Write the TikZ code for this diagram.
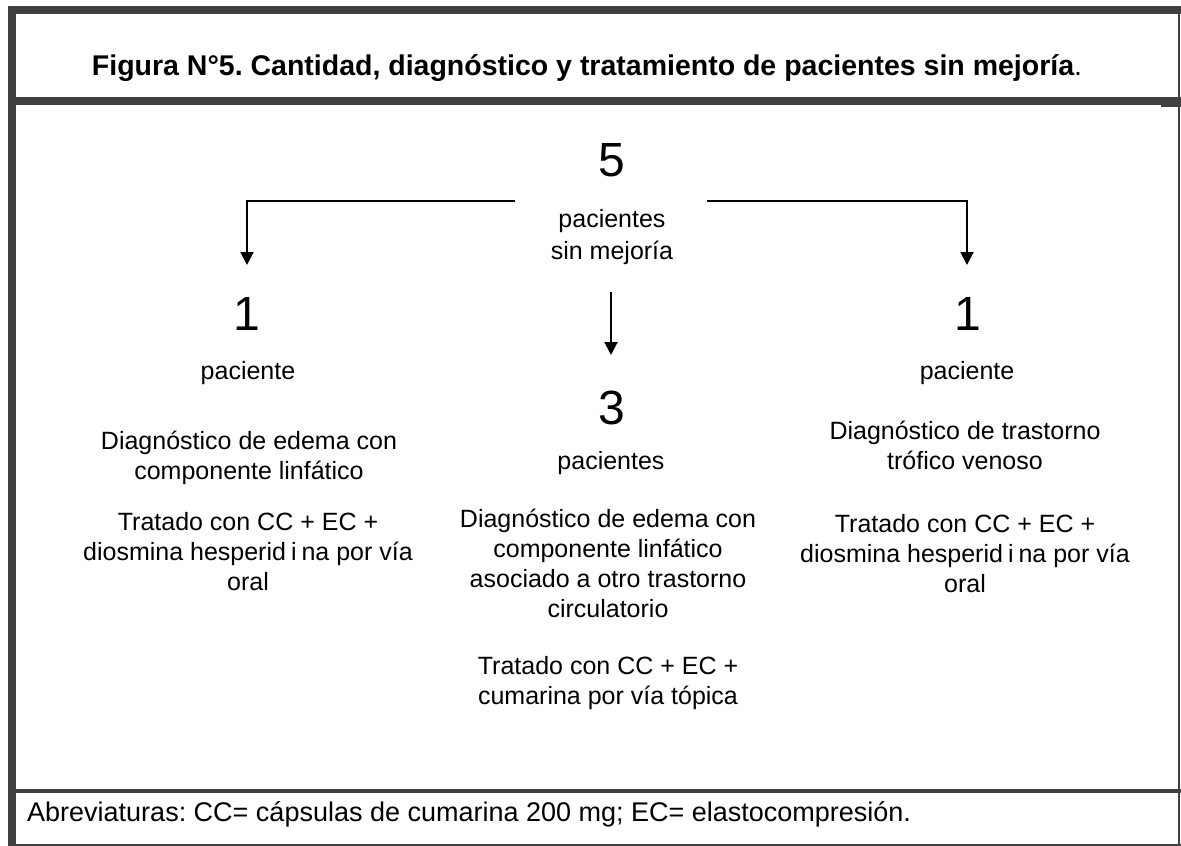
\documentclass[tikz,border=0pt]{standalone}
\usepackage{fontspec}
\setmainfont{Liberation Sans}
\usetikzlibrary{arrows.meta}
\definecolor{framegray}{HTML}{404040}
\frenchspacing
\begin{document}
\begin{tikzpicture}[x=1pt,y=-1pt,
  bar/.style={fill=framegray,draw=none},
  num/.style={inner sep=0pt,font=\fontsize{48}{48}\selectfont},
  lbl/.style={inner sep=0pt,font=\fontsize{25}{30}\selectfont,align=center},
  toplbl/.style={inner sep=0pt,font=\fontsize{25}{32}\selectfont,align=center},
  arr/.style={line width=2pt,-{Triangle[width=13pt,length=13pt]}}]
\useasboundingbox[fill=white] (0,0) rectangle (1181,846);
% frame
\fill[bar] (8,6) rectangle (16,846);
\fill[bar] (8,6) rectangle (1181,14);
\fill[bar] (1178,6) rectangle (1180,846);
\fill[bar] (16,97) rectangle (1181,105);
\fill[bar] (1161,105) rectangle (1181,107);
\fill[bar] (16,789) rectangle (1181,793);
\fill[bar] (8,844) rectangle (1181,846);
% title and footer
\node[inner sep=0pt,anchor=base,font=\fontsize{28.5}{34}\selectfont] (title) at (587,75)
  {\textbf{Figura N°5. Cantidad, diagnóstico y tratamiento de pacientes sin mejoría}.};
\node[inner sep=0pt,anchor=base west,font=\fontsize{27}{32}\selectfont] (abbr) at (27,821)
  {Abreviaturas: CC= cápsulas de cumarina 200 mg; EC= elastocompresión.};
% top
\node[num] (n5) at (612,160) {5};
\node[toplbl] (p5) at (612,236.6) {\strut pacientes\\\strut sin mejoría};
% left column
\node[num] (nL) at (247,314) {1};
\node[lbl,anchor=base] (pL) at (248,379) {paciente};
\node[lbl] (dL) at (249,458) {\strut Diagnóstico de edema con\\\strut componente linfático};
\node[lbl] (tL) at (248,554) {\strut Tratado con CC + EC +\\\strut diosmina hesperid\hspace{0.2em}i\hspace{0.2em}na por vía\\\strut oral};
% middle column
\node[num] (nM) at (612,408) {3};
\node[lbl,anchor=base] (pM) at (611,469) {pacientes};
\node[lbl] (dM) at (608,566) {\strut Diagnóstico de edema con\\\strut componente linfático\\\strut asociado a otro trastorno\\\strut circulatorio};
\node[lbl] (tM) at (608,683) {\strut Tratado con CC + EC +\\\strut cumarina por vía tópica};
% right column
\node[num] (nR) at (968,314) {1};
\node[lbl,anchor=base] (pR) at (967,379) {paciente};
\node[lbl] (dR) at (965,448) {\strut Diagnóstico de trastorno\\\strut trófico venoso};
\node[lbl] (tR) at (965,556) {\strut Tratado con CC + EC +\\\strut diosmina hesperid\hspace{0.2em}i\hspace{0.2em}na por vía\\\strut oral};
% connectors
\coordinate (hL) at (515,201);
\coordinate (hR) at (707,201);
\coordinate (tipL) at (247,265);
\coordinate (tipR) at (967,265);
\coordinate (mS) at (611,292);
\coordinate (tipM) at (611,355);
\draw[arr] (hL) -| (tipL);
\draw[arr] (hR) -| (tipR);
\draw[arr] (mS) -- (tipM);
\end{tikzpicture}
\end{document}
